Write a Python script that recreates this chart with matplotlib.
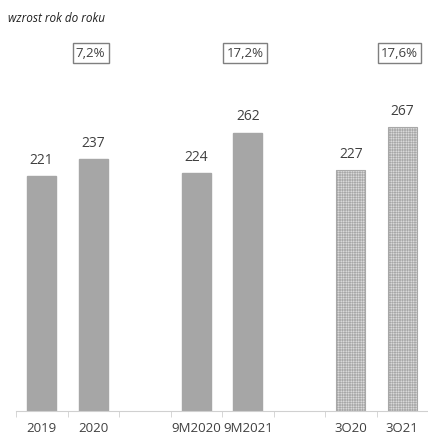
import matplotlib
matplotlib.use("Agg")
from matplotlib import pyplot as plt
import numpy as np

plt.rcParams['font.family'] = ['Open Sans', 'DejaVu Sans']
plt.rcParams['hatch.color'] = '#b4b4b4'
plt.rcParams['hatch.linewidth'] = 0.4

categories = ["2019", "2020", "", "9M2020", "9M2021", "", "3Q20", "3Q21"]
values = [221, 237, np.nan, 224, 262, np.nan, 227, 267]
dotted = [False, False, False, False, False, False, True, True]
growth = ["7,2%", "17,2%", "17,6%"]
growth_pos = [1, 4, 7]

fig = plt.figure(figsize=(4.28, 4.32), dpi=100)
ax = fig.add_axes([16 / 428, 21 / 432, 1 - 16 / 428, 1 - 21 / 432 - 0.005])

x = np.arange(len(categories))
for xi, v, d in zip(x, values, dotted):
    if np.isnan(v):
        continue
    if d:
        ax.bar(xi, v, width=0.56, color='#e6e6e6', edgecolor='#a8a8a8',
               hatch='++++++++++', linewidth=0.8)
    else:
        ax.bar(xi, v, width=0.56, color='#a6a6a6', edgecolor='#a6a6a6')
    ax.text(xi, v + 15, f"{v:.0f}", ha='center', va='center',
            fontsize=10, color='#404040')

for p, g in zip(growth_pos, growth):
    ax.text(p - 0.05, 337, g, ha='center', va='center', fontsize=9.5, color='#404040',
            bbox=dict(boxstyle='square,pad=0.25', fc='white', ec='#7f7f7f', lw=1))

ax.set_xlim(-0.5, 7.5)
ax.set_ylim(0, 385)
ax.set_xticks(x)
ax.set_xticklabels(categories, fontsize=9.5, color='#404040')
ax.tick_params(axis='x', which='major', length=0, pad=8)
ax.set_xticks(np.arange(-0.5, 8, 1), minor=True)
ax.tick_params(axis='x', which='minor', length=4, color='#d0d0d0')
ax.set_yticks([])
for s in ['top', 'right', 'left']:
    ax.spines[s].set_visible(False)
ax.spines['bottom'].set_color('#d0d0d0')

fig.text(8 / 428, 1 - 18 / 432, "wzrost rok do roku", fontsize=8.5, style='italic',
         color='#202020', va='center')

fig.savefig("out.png", dpi=100)
